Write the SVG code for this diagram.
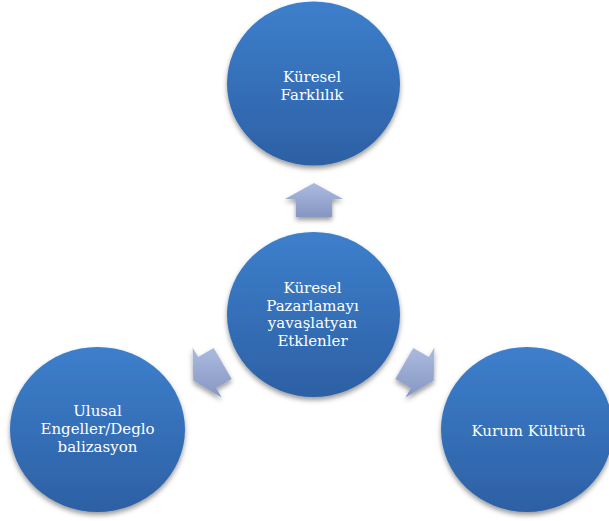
<svg xmlns="http://www.w3.org/2000/svg" width="609" height="521" viewBox="0 0 609 521">
  <defs>
    <linearGradient id="ballFill" x1="0" y1="0" x2="0" y2="1">
      <stop offset="0" stop-color="#3d7fcc"/>
      <stop offset="1" stop-color="#2d60a4"/>
    </linearGradient>
    <linearGradient id="arrowFill" x1="0" y1="0" x2="0" y2="1">
      <stop offset="0" stop-color="#abbbdf"/>
      <stop offset="1" stop-color="#8596c2"/>
    </linearGradient>
    <filter id="shade" x="-20%" y="-20%" width="140%" height="150%">
      <feDropShadow dx="0" dy="3" stdDeviation="2.5" flood-color="#000" flood-opacity="0.4"/>
    </filter>
  </defs>
  <style>
    .ball { fill: url(#ballFill); filter: url(#shade); }
    .arrow { fill: url(#arrowFill); filter: url(#shade); }
    .label { fill: #ffffff; font-family: "DejaVu Serif", "Liberation Serif", serif; font-size: 15px; text-anchor: middle; }
  </style>

  <rect width="609" height="521" fill="#ffffff"/>

  <!-- block arrows radiating from the centre node -->
  <g id="connectors">
    <path class="arrow" d="M314,183 L343,199 L332,199 L332,217 L296,217 L296,199 L285,199 Z"/>
    <path class="arrow" d="M193.3,380.5 L221.6,397.6 L216.1,388.1 L231.7,379.1 L213.7,347.9 L198.1,356.9 L192.6,347.4 Z"/>
    <path class="arrow" d="M433.7,380.5 L405.4,397.6 L410.9,388.1 L395.3,379.1 L413.3,347.9 L428.9,356.9 L434.4,347.4 Z"/>
  </g>

  <g id="node-kuresel-farklilik">
    <ellipse class="ball" cx="313.5" cy="83.5" rx="86.5" ry="82"/>
    <text class="label" x="312" y="81.5">Küresel</text>
    <text class="label" x="312" y="99.5">Farklılık</text>
  </g>

  <g id="node-merkez">
    <ellipse class="ball" cx="313.5" cy="314.5" rx="86.5" ry="82.5"/>
    <text class="label" x="312.5" y="293.3">Küresel</text>
    <text class="label" x="312.5" y="310.8">Pazarlamayı</text>
    <text class="label" x="312.5" y="328.3">yavaşlatyan</text>
    <text class="label" x="312.5" y="345.8">Etklenler</text>
  </g>

  <g id="node-ulusal-engeller">
    <ellipse class="ball" cx="97.5" cy="429.5" rx="87.5" ry="82.5"/>
    <text class="label" x="97.5" y="416">Ulusal</text>
    <text class="label" x="97.5" y="434">Engeller/Deglo</text>
    <text class="label" x="97.5" y="452">balizasyon</text>
  </g>

  <g id="node-kurum-kulturu">
    <ellipse class="ball" cx="527" cy="429.5" rx="86" ry="82.5"/>
    <text class="label" x="528.5" y="435.7">Kurum Kültürü</text>
  </g>
</svg>
